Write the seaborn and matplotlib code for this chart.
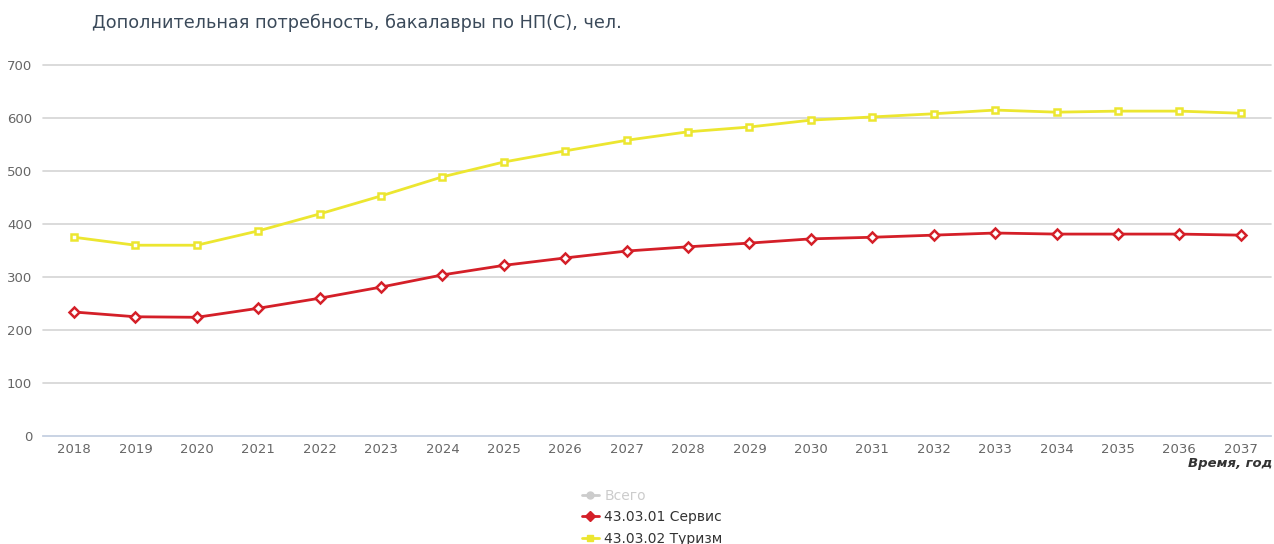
import pandas as pd
import matplotlib.pyplot as plt
import seaborn as sns
from matplotlib.lines import Line2D
from matplotlib.ticker import MultipleLocator

years = list(range(2018, 2038))
servis = [234, 225, 224, 241, 260, 281, 304, 322, 336, 349,
          357, 364, 372, 375, 379, 383, 381, 381, 381, 379]
turizm = [375, 360, 360, 387, 419, 453, 489, 517, 538, 558,
          574, 583, 596, 602, 608, 615, 611, 613, 613, 609]
series_names = ['43.03.01 Сервис', '43.03.02 Туризм']

df = pd.DataFrame({
    'year': years * 2,
    'value': servis + turizm,
    'series': [series_names[0]] * len(years) + [series_names[1]] * len(years),
})

sns.set_style('white')
plt.rcParams['font.family'] = ['DejaVu Sans']

red = '#d41f28'
yellow = '#ece630'
grid_c = '#d4d4d4'
axis_c = '#c7d3e6'
tick_c = '#666666'

fig = plt.figure(figsize=(12.74, 5.44), dpi=100)
ax = fig.add_axes([0.034, 0.1985, 0.964, 0.682])

sns.lineplot(data=df, x='year', y='value', hue='series',
             palette={series_names[0]: red, series_names[1]: yellow},
             style='series', markers={series_names[0]: 'D', series_names[1]: 's'},
             dashes=False, linewidth=2, markersize=5,
             markerfacecolor='white', markeredgewidth=1.8,
             legend=False, ax=ax)
for line in ax.lines:
    line.set_markeredgecolor(line.get_color())

ax.set_xlim(2017.5, 2037.5)
ax.set_ylim(0, 700)
ax.set_yticks(range(0, 701, 100))
ax.set_xticks(years)
ax.xaxis.set_minor_locator(MultipleLocator(1, offset=0.5))
ax.yaxis.grid(True, color=grid_c, linewidth=1.2)
for gl in ax.get_ygridlines():
    gl.set_clip_on(False)
ax.set_axisbelow(True)
for s in ['top', 'right', 'left']:
    ax.spines[s].set_visible(False)
ax.spines['bottom'].set_color(axis_c)
ax.spines['bottom'].set_linewidth(1.2)
ax.spines['bottom'].set_zorder(3)
ax.tick_params(axis='x', which='major', length=0, pad=5, labelsize=9.5, labelcolor=tick_c)
ax.tick_params(axis='x', which='minor', length=6, color=axis_c, width=1, direction='out')
ax.tick_params(axis='y', length=0, pad=8, labelsize=9.5, labelcolor=tick_c)
ax.set_xlabel('')
ax.set_ylabel('')

fig.text(0.9985, 0.148, 'Время, год', ha='right', va='center', fontsize=9.5,
         fontweight='bold', fontstyle='italic', color='#333333')
fig.text(0.072, 0.958, 'Дополнительная потребность, бакалавры по НП(С), чел.',
         ha='left', va='center', fontsize=12.7, color='#3b4a5a')

handles = [
    Line2D([0], [0], color='#cccccc', marker='o', markersize=5, linewidth=2),
    Line2D([0], [0], color=red, marker='D', markersize=5, linewidth=2),
    Line2D([0], [0], color=yellow, marker='s', markersize=5, linewidth=2),
]
leg = fig.legend(handles, ['Всего'] + series_names, loc='center',
                 bbox_to_anchor=(0.512, 0.049), frameon=False, fontsize=10,
                 handlelength=1.2, handletextpad=0.4, labelspacing=0.55,
                 borderaxespad=0)
for t, c in zip(leg.get_texts(), ['#cccccc', '#333333', '#333333']):
    t.set_color(c)

fig.savefig('out.png', dpi=100)
